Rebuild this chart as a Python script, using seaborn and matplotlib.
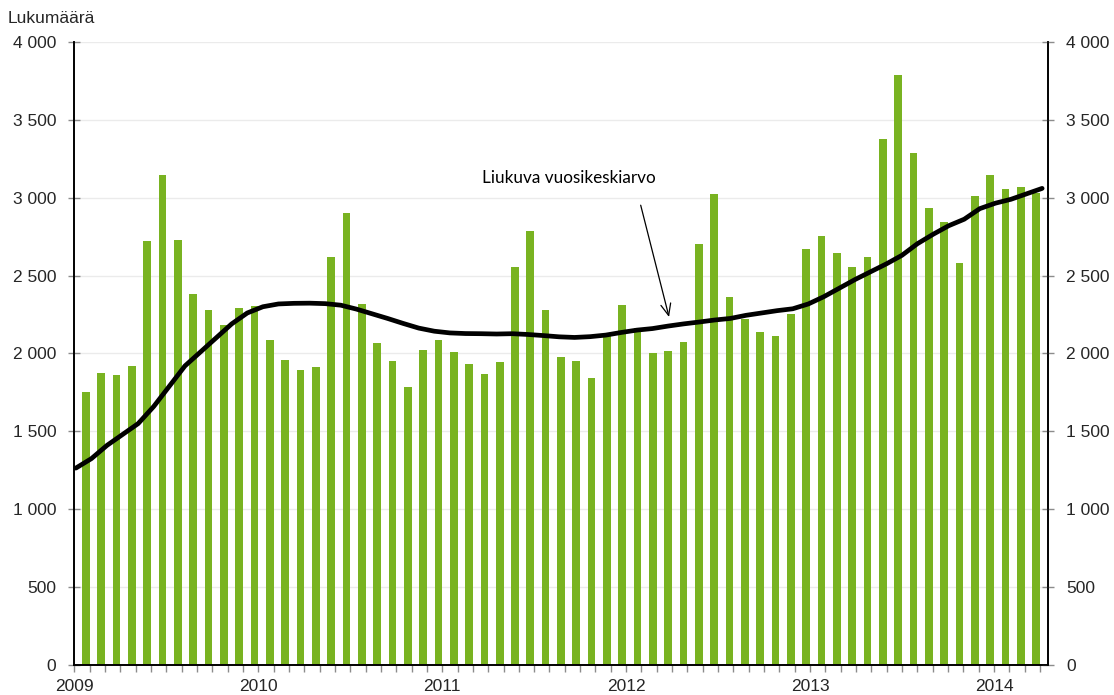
import numpy as np
import pandas as pd
import matplotlib
matplotlib.use("Agg")
import matplotlib.pyplot as plt
from matplotlib.ticker import FuncFormatter, FixedLocator, NullFormatter
import seaborn as sns

# DATA (monthly counts Jan 2009 - Mar 2014)
counts=[1752,1876,1861,1919,2720,3145,2726,2381,2281,2184,2289,2308,
        2084,1958,1891,1915,2619,2901,2319,2065,1949,1784,2022,2086,
        2007,1932,1868,1945,2555,2786,2281,1979,1953,1840,2129,2311,
        2161,2003,2015,2071,2700,3025,2362,2220,2141,2115,2253,
        2670,2756,2647,2553,2621,3374,3787,3284,2933,2842,2578,
        3012,3145,3059,3066,3028]
moving_avg=[1264,1325,1410,1480,1550,1660,1790,1920,2010,2100,2190,2260,
            2300,2318,2322,2323,2320,2310,2285,2255,2225,2193,2163,2143,
            2132,2128,2127,2125,2127,2122,2115,2107,2103,2108,2118,2135,
            2150,2160,2176,2190,2202,2215,2225,2245,2260,2275,2287,
            2318,2365,2420,2475,2525,2575,2630,2705,2765,2820,2862,
            2930,2965,2990,3025,3060]
years=["2009","2010","2011","2012","2013","2014"]
y_ticks=[0,500,1000,1500,2000,2500,3000,3500,4000]
line_label="Liukuva vuosikeskiarvo"
y_title="Lukumäärä"

months=pd.period_range("2009-01","2014-03",freq="M")
df=pd.DataFrame({"month":months.astype(str),"count":counts})

sns.set_theme(style="white")
plt.rcParams["font.family"]=["Liberation Sans","DejaVu Sans"]

fig=plt.figure(figsize=(11.14,6.95),dpi=100)
ax=fig.add_axes([0.0667,0.0432,0.8743,0.8964])

sns.barplot(data=df,x="month",y="count",color="#79b321",width=0.5,saturation=1,linewidth=0,ax=ax)

# category boundaries sit 0.75 left of each bar centre
xmin=-0.75
xmax=62.79
n=len(counts)
line_x=np.linspace(xmin+0.1,xmax-0.4,n)
sns.lineplot(x=line_x,y=moving_avg,color="black",lw=3.4,ax=ax,solid_capstyle="round")

ax.set_xlim(xmin,xmax)
ax.set_ylim(0,4000)
ax.set_xlabel("")
ax.set_ylabel("")

# x axis: month boundary ticks, year labels
bounds=np.arange(n+1)+xmin
ax.xaxis.set_minor_locator(FixedLocator(bounds))
ax.xaxis.set_major_locator(FixedLocator(bounds[::12][:len(years)]))
ax.set_xticklabels(years)
ax.xaxis.set_minor_formatter(NullFormatter())
ax.tick_params(axis="x",which="both",bottom=True,direction="out",length=5,width=1,color="#8c8c8c",labelsize=12.5,pad=5)

fmt=FuncFormatter(lambda v,p:f"{int(v):,}".replace(","," "))
ax.yaxis.set_major_locator(FixedLocator(y_ticks))
ax.yaxis.set_major_formatter(fmt)
ax.tick_params(axis="y",left=True,direction="inout",length=8,width=1,color="#8c8c8c",labelsize=12.5,pad=9)
ax.yaxis.grid(True,color="#ebebeb",lw=1)
ax.set_axisbelow(True)

ax2=ax.twinx()
ax2.set_ylim(0,4000)
ax2.yaxis.set_major_locator(FixedLocator(y_ticks))
ax2.yaxis.set_major_formatter(fmt)
ax2.tick_params(axis="y",right=True,direction="inout",length=8,width=1,color="#8c8c8c",labelsize=12.5,pad=9)
ax2.grid(False)

for a in (ax,ax2):
    a.spines["top"].set_visible(False)
    for s in ("left","right","bottom"):
        a.spines[s].set_color("black")
        a.spines[s].set_linewidth(1.2)

# annotation
ax.text(31.5,3126,line_label,ha="center",va="center",fontsize=12.3,family=["Lato","DejaVu Sans"],color="black")
ax.annotate("",xy=(38.05,2234),xytext=(36.2,2952),
            arrowprops=dict(arrowstyle="->,head_length=0.7,head_width=0.3",lw=0.9,color="black",shrinkA=0,shrinkB=0))

fig.text(0.007,0.974,y_title,ha="left",va="center",fontsize=12.5)

fig.savefig("out.png",dpi=100)
